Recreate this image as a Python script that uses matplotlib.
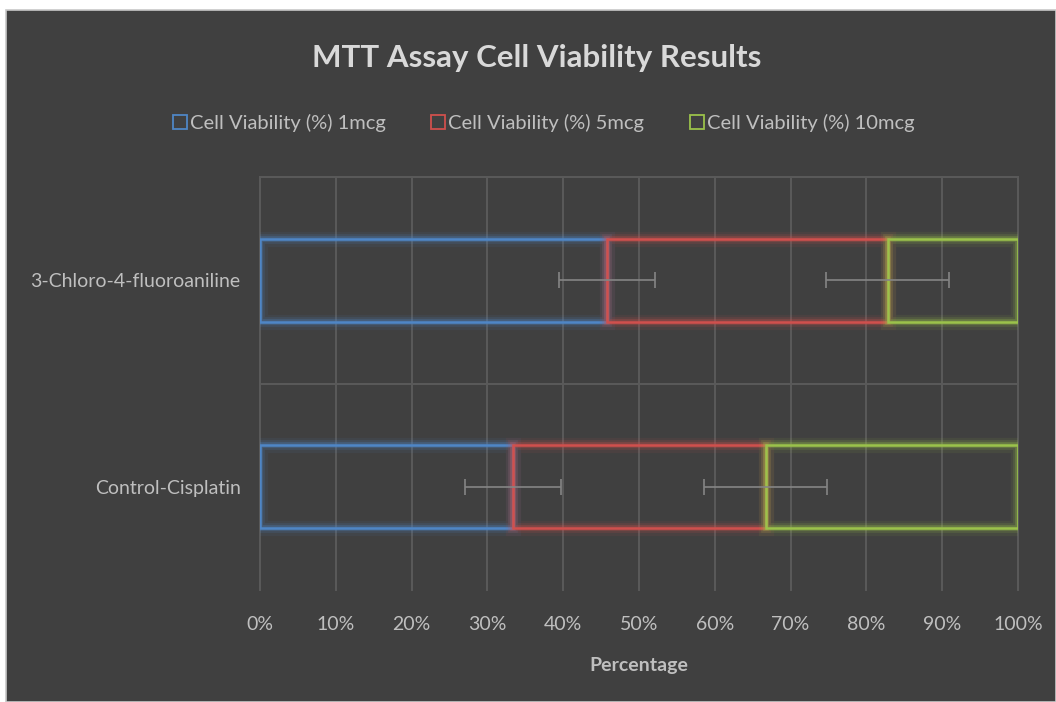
import matplotlib
matplotlib.use("Agg")
import matplotlib.pyplot as plt
import matplotlib.patheffects as pe
from matplotlib.lines import Line2D
from matplotlib.patches import Rectangle
import numpy as np

# data (shares of 100% stacked bar)
categories = ["Control-Cisplatin", "3-Chloro-4-fluoroaniline"]
series_names = ["Cell Viability (%) 1mcg", "Cell Viability (%) 5mcg", "Cell Viability (%) 10mcg"]
v_1mcg = [33.4, 45.8]
v_5mcg = [33.3, 37.0]
v_10mcg = [33.3, 17.2]
err_1mcg = [6.3, 6.3]
err_5mcg = [8.1, 8.1]
xticks = [0, 10, 20, 30, 40, 50, 60, 70, 80, 90, 100]

colors = ["#4f86c6", "#d0504d", "#9bc24b"]
bg = "#404040"
txt = "#bfbfbf"
grid_c = "#5a5a5a"

plt.rcParams['font.family'] = ['Lato', 'DejaVu Sans']

fig = plt.figure(figsize=(10.56, 7.02), dpi=100, facecolor="white")
fig.patches.append(Rectangle((6/1056, 0), 1 - 6/1056, 1 - 10/702, transform=fig.transFigure,
                             facecolor=bg, edgecolor="#c8c8c8", linewidth=1.2, zorder=-5))

ax = fig.add_axes([260/1056, 1 - 590/702, 758/1056, 413/702])
ax.set_facecolor("none")
ax.set_zorder(2)
for s in ax.spines.values():
    s.set_visible(False)

ax.set_xlim(0, 100)
ax.set_ylim(-0.5, 1.5)

# grid
for x in xticks:
    ax.plot([x, x], [-0.5, 1.5], color=grid_c, lw=1.4, zorder=1, clip_on=False)
for yy in [0.5, 1.5]:
    ax.plot([0, 100], [yy, yy], color=grid_c, lw=1.4, zorder=1, clip_on=False)

y = np.arange(len(categories))
vals = [v_1mcg, v_5mcg, v_10mcg]
left = np.zeros(len(categories))
glow = lambda c: [pe.Stroke(linewidth=11, foreground=c, alpha=0.08),
                  pe.Stroke(linewidth=7, foreground=c, alpha=0.15),
                  pe.Stroke(linewidth=4, foreground=c, alpha=0.3),
                  pe.Normal()]
ends = []
for v, c in zip(vals, colors):
    bars = ax.barh(y, v, left=left, height=0.4, facecolor="none", edgecolor=c,
                   linewidth=1.8, zorder=3)
    for b in bars:
        b.set_path_effects(glow(c))
    left = left + np.array(v)
    ends.append(left.copy())

# error bars at the end of each segment
for e, err in zip(ends[:2], [err_1mcg, err_5mcg]):
    ax.errorbar(e, y, xerr=err, fmt="none", ecolor="#858585", elinewidth=1.2,
                capsize=6, capthick=1.2, zorder=4)

ax.set_xticks(xticks)
ax.set_xticklabels([f"{t}%" for t in xticks])
ax.set_yticks(y)
ax.set_yticklabels(categories)
ax.tick_params(axis="x", length=0, pad=19, labelsize=14, labelcolor=txt)
ax.tick_params(axis="y", length=0, pad=14, labelsize=14, labelcolor=txt)
ax.set_xlabel("Percentage", fontsize=14, fontweight="bold", color=txt, labelpad=17)

fig.text(537/1056, 1 - 58/702, "MTT Assay Cell Viability Results", ha="center", va="center",
         fontsize=22.5, fontweight="bold", color="#d9d9d9")

handles = [Line2D([], [], linestyle="none", marker="s", markersize=10, markerfacecolor="none",
                  markeredgecolor=c, markeredgewidth=1.3) for c in colors]
fig.legend(handles, series_names, loc="center", bbox_to_anchor=(543/1056, 1 - 123/702), ncol=3,
           frameon=False, fontsize=14.5, labelcolor=txt, handletextpad=0.1, columnspacing=2.2,
           handlelength=0.8)

fig.savefig("out.png", dpi=100, facecolor="white")
